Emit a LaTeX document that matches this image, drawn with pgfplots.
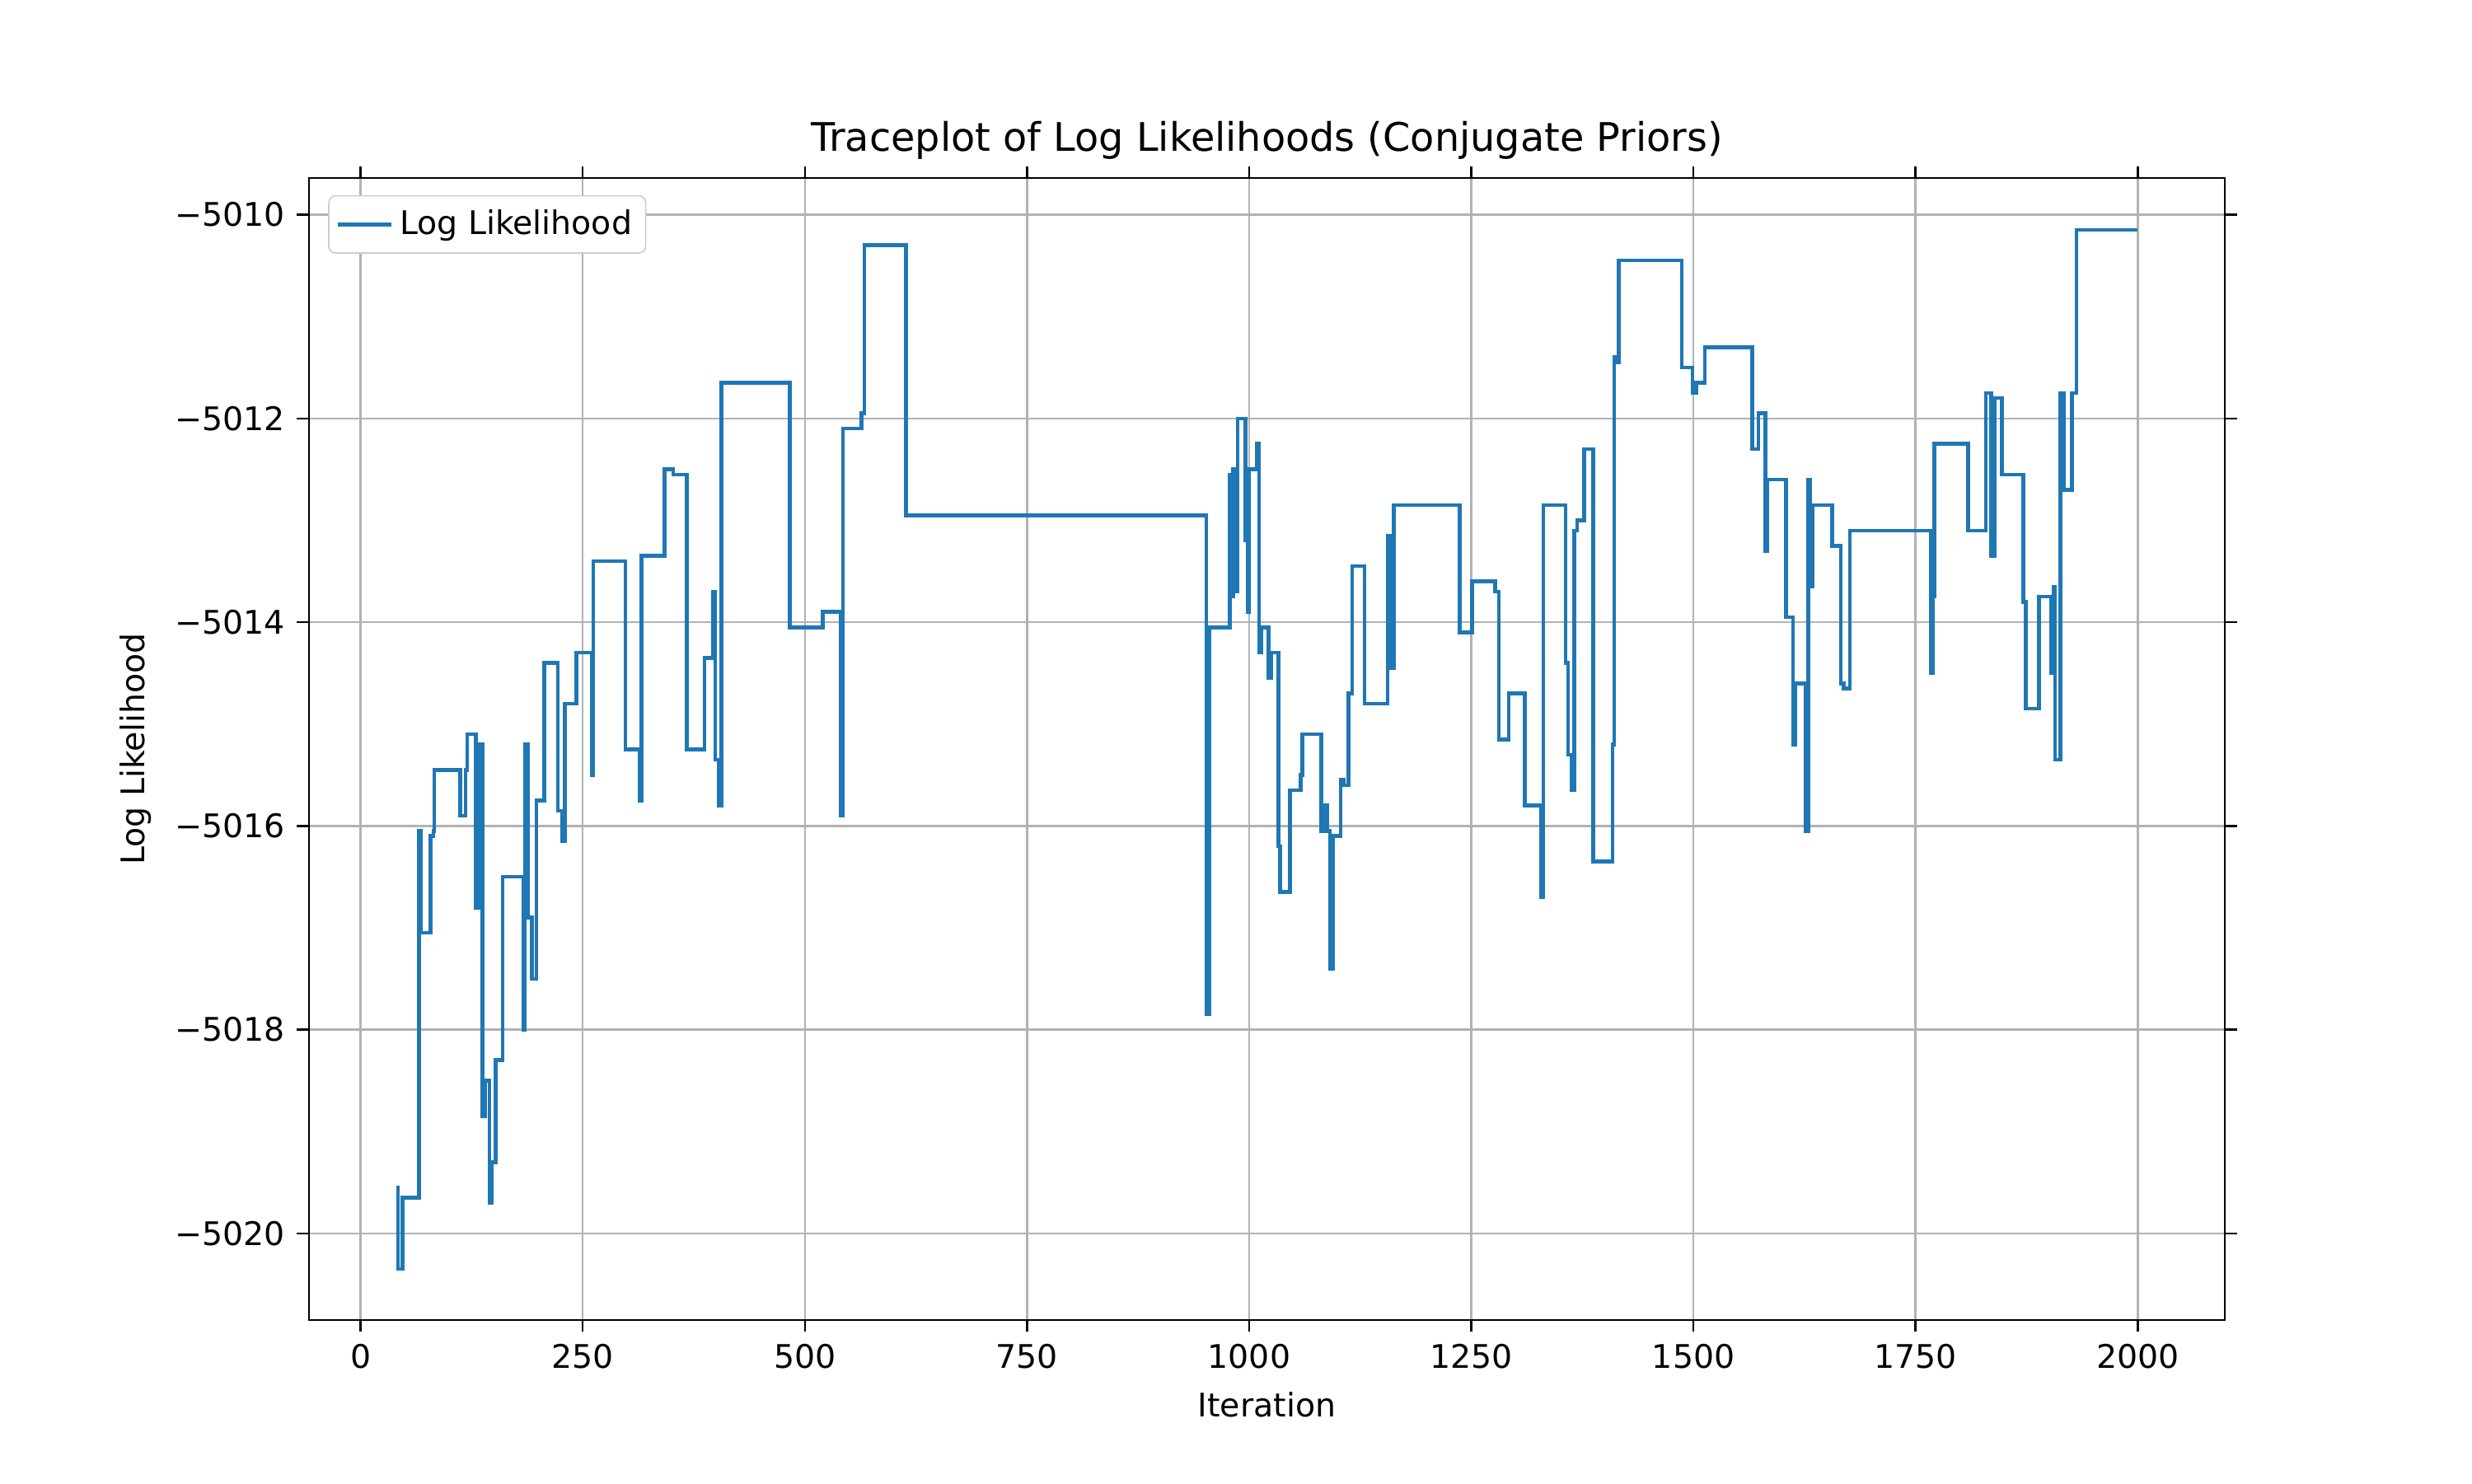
\documentclass[border=0pt]{standalone}
\usepackage{pgfplots}
\pgfplotsset{compat=1.18}
\usepackage{fontspec}
\setmainfont{DejaVu Sans}
\definecolor{mplblue}{HTML}{1F77B4}
\begin{document}
\begin{tikzpicture}
\path (-1.25in,-0.66in) rectangle (8.75in,5.34in);
\begin{axis}[at={(0,0)},anchor=south west,scale only axis,width=7.75in,height=4.62in,
xmin=-58,xmax=2098,ymin=-5020.85,ymax=-5009.64,
xtick={0,250,...,2000},ytick={-5020,-5018,...,-5010},
yticklabels={−5020,−5018,−5016,−5014,−5012,−5010},
grid=major,grid style={gray!60,line width=0.6pt},
major tick length=3.5pt,
every tick/.style={black,line width=0.6pt},tick align=outside,
/pgf/number format/assume math mode=true,
/pgf/number format/1000 sep={},
ticklabel style={font=\fontsize{9.5}{11}\selectfont},
xlabel={Iteration},ylabel={Log Likelihood},
label style={font=\fontsize{9.5}{11}\selectfont},
title={Traceplot of Log Likelihoods (Conjugate Priors)},
title style={font=\fontsize{11.5}{13}\selectfont,yshift=-4pt},
legend style={at={(0.01,0.985)},anchor=north west,font=\fontsize{9.5}{11}\selectfont,draw=gray!40,rounded corners=2pt,inner sep=2pt},
legend image code/.code={\draw[#1] (0cm,0cm) -- (0.55cm,0cm);},
legend cell align=left]
\addplot[const plot,mplblue,line width=1.1pt] coordinates {
(40,-5019.55)(42,-5020.35)(46,-5020.35)(47,-5019.65)(66,-5016.05)(68,-5017.05)(79,-5016.1)(82,-5016.05)(83,-5015.45)(110,-5015.45)(112,-5015.9)(118,-5015.45)(120,-5015.1)(130,-5016.8)(134,-5015.2)(137,-5018.85)(140,-5018.5)(145,-5019.7)(148,-5019.3)(152,-5018.3)(160,-5016.5)(183,-5018.0)(185,-5015.2)(188,-5016.9)(193,-5017.5)(198,-5015.75)(207,-5014.4)(222,-5015.85)(227,-5016.15)(230,-5014.8)(243,-5014.3)(260,-5015.5)(262,-5013.4)(298,-5015.25)(314,-5015.75)(316,-5013.35)(342,-5012.5)(352,-5012.55)(367,-5015.25)(387,-5014.35)(397,-5013.7)(399,-5015.35)(403,-5015.8)(406,-5011.65)(483,-5014.05)(520,-5013.9)(540,-5015.9)(543,-5012.1)(564,-5011.95)(567,-5010.3)(614,-5012.95)(952,-5017.85)(955,-5014.05)(978,-5012.55)(980,-5013.75)(982,-5012.5)(984,-5013.7)(987,-5012.0)(996,-5013.2)(998,-5013.9)(1000,-5012.5)(1009,-5012.25)(1011,-5014.3)(1014,-5014.05)(1022,-5014.55)(1025,-5014.3)(1033,-5016.2)(1035,-5016.65)(1046,-5015.65)(1058,-5015.5)(1060,-5015.1)(1081,-5016.05)(1085,-5015.8)(1088,-5016.05)(1091,-5017.4)(1094,-5016.1)(1103,-5015.55)(1106,-5015.6)(1112,-5014.7)(1116,-5013.45)(1130,-5014.8)(1156,-5013.15)(1159,-5014.45)(1163,-5012.85)(1237,-5014.1)(1251,-5013.6)(1277,-5013.7)(1281,-5015.15)(1292,-5014.7)(1310,-5015.8)(1329,-5016.7)(1331,-5012.85)(1356,-5014.4)(1359,-5015.3)(1363,-5015.65)(1366,-5013.1)(1369,-5013.0)(1377,-5012.3)(1387,-5016.35)(1409,-5015.2)(1411,-5011.4)(1414,-5011.45)(1416,-5010.45)(1487,-5011.5)(1499,-5011.75)(1503,-5011.65)(1513,-5011.3)(1566,-5012.3)(1573,-5011.95)(1581,-5013.3)(1583,-5012.6)(1604,-5013.95)(1612,-5015.2)(1615,-5014.6)(1626,-5016.05)(1629,-5012.6)(1631,-5013.65)(1634,-5012.85)(1656,-5013.25)(1666,-5014.6)(1669,-5014.65)(1676,-5013.1)(1767,-5014.5)(1769,-5013.75)(1771,-5012.25)(1809,-5013.1)(1829,-5011.75)(1835,-5013.35)(1839,-5011.8)(1847,-5012.55)(1871,-5013.8)(1874,-5014.85)(1889,-5013.75)(1903,-5014.5)(1905,-5013.65)(1907,-5015.35)(1913,-5011.75)(1917,-5012.7)(1926,-5011.75)(1931,-5010.15)(2000,-5010.15)};
\addlegendentry{Log Likelihood}
\end{axis}
\end{tikzpicture}
\end{document}
